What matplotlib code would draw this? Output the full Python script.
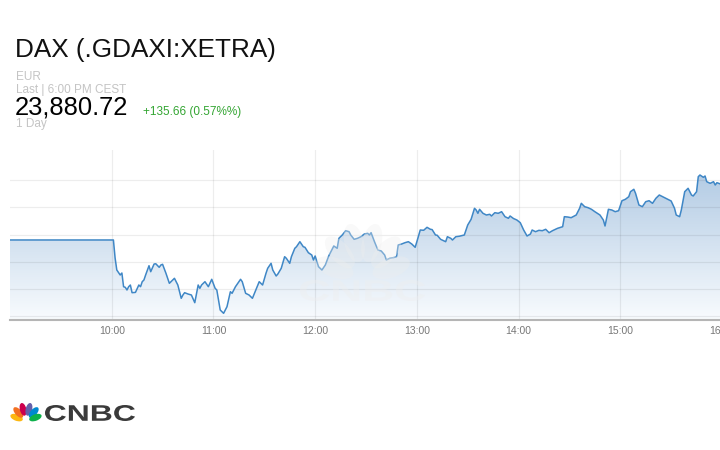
import matplotlib
matplotlib.use("Agg")
import matplotlib.pyplot as plt
import numpy as np
from matplotlib.colors import LinearSegmentedColormap
from matplotlib.patches import Ellipse, PathPatch
from matplotlib.textpath import TextPath
from matplotlib.font_manager import FontProperties
from matplotlib.transforms import Affine2D

plt.rcParams['font.family'] = ['Liberation Sans', 'DejaVu Sans']

# quote header
name = "DAX (.GDAXI:XETRA)"
currency = "EUR"
last_label = "Last | 6:00 PM CEST"
last_price = "23,880.72"
change = "+135.66 (0.57%%)"
period = "1 Day"

# intraday prices (Xetra, CEST)
times = ["09:00", "10:01", "10:02", "10:03", "10:05", "10:06", "10:07", "10:08", "10:09", "10:10",
         "10:11", "10:12", "10:14", "10:16", "10:17", "10:18", "10:19", "10:20", "10:22", "10:23",
         "10:25", "10:26", "10:28", "10:29", "10:30", "10:32", "10:34", "10:36", "10:37", "10:39",
         "10:41", "10:42", "10:43", "10:45", "10:47", "10:49", "10:51", "10:52", "10:53", "10:55",
         "10:57", "10:59", "11:01", "11:02", "11:04", "11:05", "11:06", "11:08", "11:10", "11:11",
         "11:13", "11:16", "11:17", "11:19", "11:21", "11:23", "11:25", "11:27", "11:29", "11:31",
         "11:32", "11:34", "11:35", "11:37", "11:38", "11:40", "11:42", "11:43", "11:45", "11:46",
         "11:48", "11:49", "11:51", "11:53", "11:54", "11:56", "11:58", "11:59", "12:00", "12:02",
         "12:04", "12:06", "12:08", "12:10", "12:11", "12:13", "12:14", "12:16", "12:18", "12:20",
         "12:21", "12:23", "12:25", "12:27", "12:29", "12:31", "12:32", "12:33", "12:35", "12:37",
         "12:39", "12:41", "12:42", "12:44", "12:46", "12:48", "12:49", "12:51", "12:53", "12:55",
         "12:57", "12:59", "13:00", "13:02", "13:04", "13:06", "13:08", "13:09", "13:11", "13:12",
         "13:14", "13:17", "13:18", "13:20", "13:21", "13:23", "13:25", "13:28", "13:30", "13:32",
         "13:34", "13:35", "13:36", "13:37", "13:39", "13:41", "13:43", "13:44", "13:46", "13:48",
         "13:50", "13:52", "13:54", "13:55", "13:57", "13:59", "14:01", "14:03", "14:05", "14:07",
         "14:08", "14:10", "14:12", "14:14", "14:16", "14:18", "14:20", "14:23", "14:26", "14:27",
         "14:29", "14:31", "14:34", "14:36", "14:37", "14:39", "14:41", "14:43", "14:45", "14:48",
         "14:50", "14:51", "14:53", "14:55", "14:57", "14:59", "15:01", "15:03", "15:05", "15:06",
         "15:08", "15:09", "15:11", "15:13", "15:15", "15:17", "15:19", "15:21", "15:23", "15:25",
         "15:27", "15:29", "15:30", "15:32", "15:33", "15:35", "15:36", "15:38", "15:40", "15:42",
         "15:43", "15:45", "15:46", "15:47", "15:49", "15:50", "15:51", "15:53", "15:55", "15:56",
         "15:57", "15:59"]
prices = [23745.06, 23745.06, 23701.4, 23672.4, 23660.3, 23665.1, 23632.0, 23630.5, 23624.0, 23632.0,
          23636.1, 23617.5, 23618.2, 23636.1, 23632.0, 23644.1, 23648.2, 23660.3, 23682.8, 23668.3,
          23686.9, 23687.5, 23678.9, 23684.5, 23686.2, 23664.4, 23640.2, 23648.2, 23652.3, 23636.1,
          23603.9, 23611.9, 23617.5, 23614.3, 23611.9, 23593.3, 23636.1, 23628.1, 23636.1, 23644.1,
          23632.0, 23649.9, 23628.1, 23624.0, 23575.6, 23571.5, 23567.6, 23583.6, 23619.9, 23616.0,
          23632.0, 23649.9, 23644.1, 23616.0, 23611.9, 23603.9, 23624.0, 23644.1, 23636.1, 23664.4,
          23676.5, 23688.6, 23672.4, 23657.9, 23662.7, 23676.5, 23704.6, 23700.7, 23688.6, 23704.6,
          23724.9, 23728.8, 23740.9, 23728.8, 23727.3, 23714.3, 23708.7, 23696.6, 23706.3, 23680.4,
          23672.4, 23684.5, 23706.3, 23722.5, 23730.5, 23724.9, 23749.1, 23757.1, 23767.5, 23765.1,
          23757.1, 23746.7, 23749.1, 23753.0, 23759.5, 23761.2, 23757.1, 23762.7, 23740.9, 23720.8,
          23718.4, 23708.7, 23696.6, 23700.7, 23702.2, 23704.6, 23732.9, 23735.3, 23738.5, 23740.9,
          23735.3, 23727.3, 23740.9, 23769.2, 23768.5, 23775.7, 23770.9, 23770.2, 23757.1, 23756.5,
          23746.7, 23740.9, 23753.0, 23749.1, 23745.0, 23753.0, 23754.1, 23757.1, 23781.3, 23795.1,
          23821.7, 23817.6, 23809.6, 23819.3, 23809.6, 23805.5, 23807.2, 23803.1, 23811.1, 23809.6,
          23813.5, 23801.4, 23797.5, 23803.1, 23797.0, 23793.4, 23786.9, 23769.2, 23754.7, 23759.5,
          23769.2, 23765.1, 23768.4, 23767.5, 23770.9, 23762.7, 23767.5, 23773.3, 23777.2, 23801.4,
          23800.6, 23799.0, 23805.5, 23821.7, 23833.8, 23825.6, 23823.2, 23819.3, 23813.5, 23805.5,
          23793.4, 23778.9, 23819.3, 23817.6, 23813.5, 23815.9, 23840.1, 23843.5, 23849.8, 23861.9,
          23867.7, 23858.0, 23829.7, 23825.6, 23837.7, 23840.1, 23833.8, 23845.9, 23853.9, 23849.8,
          23845.9, 23841.8, 23839.4, 23821.7, 23805.5, 23801.4, 23817.6, 23861.9, 23870.1, 23853.9,
          23851.5, 23861.9, 23898.2, 23902.3, 23896.7, 23899.9, 23886.1, 23882.2, 23886.1, 23878.1,
          23883.7, 23880.72]

tick_hours = [10, 11, 12, 13, 14, 15, 16]
tick_labels = ["10:00", "11:00", "12:00", "13:00", "14:00", "15:00", "16:00"]

hours = np.array([int(t[:2]) + int(t[3:]) / 60 for t in times])
prices = np.array(prices)

y_lo, y_hi = 23551.4, 23962.8
grid_vals = [23560 + 66 * k for k in range(6)]

fig = plt.figure(figsize=(7.2, 4.5), dpi=100)
ax = fig.add_axes([10 / 720, 130 / 450, 712 / 720, 170 / 450])

# gradient area under the line
cmap = LinearSegmentedColormap.from_list("fade", ["#f8fbfe", "#a8c4e0"])
grad = np.linspace(0, 1, 256).reshape(-1, 1)
im = ax.imshow(grad, extent=[9, 16, y_lo, y_hi], origin="lower", aspect="auto",
               cmap=cmap, zorder=1)
poly = ax.fill_between(hours, prices, y_lo, color="none", lw=0)
im.set_clip_path(poly.get_paths()[0], transform=ax.transData)

ax.plot(hours, prices, color="#3f87c6", lw=1.1, zorder=3)

ax.set_xlim(9, 16)
ax.set_ylim(y_lo, y_hi)
ax.set_xticks(tick_hours)
ax.set_xticklabels(tick_labels, fontsize=7.5, color="#777777")
ax.set_yticks(grid_vals)
ax.set_yticklabels([])
ax.tick_params(length=0, pad=4)
ax.grid(True, color="black", alpha=0.07, lw=0.9)
ax.set_axisbelow(False)
for s in ["top", "left", "right"]:
    ax.spines[s].set_visible(False)
ax.spines["bottom"].set_color("#b5b5b5")
ax.spines["bottom"].set_linewidth(1.5)
ax.spines["bottom"].set_zorder(4)

# overlay in pixel coordinates for header and logos
ov = fig.add_axes([0, 0, 1, 1], zorder=5)
ov.set_xlim(0, 720)
ov.set_ylim(450, 0)
ov.axis("off")
ov.patch.set_alpha(0)

ov.text(15, 57, name, fontsize=18.8, color="#111111", va="baseline")
ov.text(16, 80, currency, fontsize=8.5, color="#c4c4c4", va="baseline")
ov.text(16, 93, last_label, fontsize=8.5, color="#c4c4c4", va="baseline")
ov.text(15, 115, last_price, fontsize=18.4, color="#000000", va="baseline")
ov.text(143, 115, change, fontsize=8.5, color="#33a532", va="baseline")
ov.text(16, 127, period, fontsize=8.5, color="#c4c4c4", va="baseline")


def boxed_text(s, x0, x1, y_top, y_bot, **kw):
    tp = TextPath((0, 0), s, size=10,
                  prop=FontProperties(family="Liberation Sans", weight="bold"))
    bb = tp.get_extents()
    tr = (Affine2D().translate(-bb.x0, -bb.y0)
          .scale((x1 - x0) / bb.width, -(y_bot - y_top) / bb.height)
          .translate(x0, y_bot))
    ov.add_patch(PathPatch(tr.transform_path(tp), lw=0, **kw))


def peacock(bx, by, scale, colors, alpha=1.0):
    angles = [-70, -42, -14, 14, 42, 70]
    radii = [10, 11.5, 12, 12, 11.5, 10]
    for a, r, c in zip(angles, radii, colors):
        t = np.radians(a)
        cx = bx + scale * r * np.sin(t)
        cy = by - scale * r * np.cos(t)
        ov.add_patch(Ellipse((cx, cy), 6.5 * scale, 13 * scale, angle=a,
                             color=c, alpha=alpha, lw=0))


# faint watermark in the chart
peacock(363, 278, 3.0, ["#eeeeee"] * 6, alpha=0.35)
boxed_text("CNBC", 300, 425, 280, 301, color="#eeeeee", alpha=0.4)

# logo bottom left
peacock(26, 421, 1.0, ["#fcb711", "#f37021", "#cc004c", "#6460aa", "#0089d0", "#0db14b"])
boxed_text("CNBC", 45, 135, 405, 421, color="#3a3a3a")

fig.savefig("out.png", dpi=100)
